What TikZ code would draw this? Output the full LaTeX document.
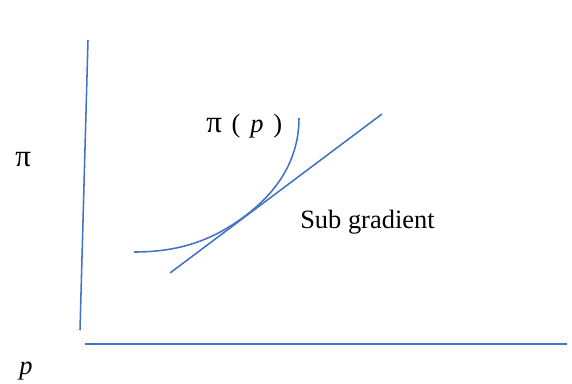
\documentclass[tikz,border=0pt]{standalone}
\usepackage{fontspec}
\setmainfont{Liberation Serif}
\usetikzlibrary{positioning}

\newcommand{\pigrande}{{\fontsize{22}{22}\selectfont π}}

\begin{document}
\begin{tikzpicture}[
  x=0.025cm, y=-0.025cm,
  font=\fontsize{18.8}{22}\selectfont,
  tratto/.style={draw={rgb,255:red,68;green,114;blue,196}, line width=1.1pt},
  etichetta/.style={inner sep=0pt, anchor=base west}
]

% cornice fissata in pixel del riferimento (572 x 383)
\useasboundingbox (0,0) rectangle (572,383);

% ---- assi ----------------------------------------------------------
\draw[tratto] (88,40) -- (80,330);     % asse verticale
\draw[tratto] (85,344) -- (567,344);   % asse orizzontale

\node[etichetta] (asse_pi) at (15,166) {\pigrande};
\node[etichetta] (asse_p)  at (19,374) {\textit{p}};

% ---- funzione e sottogradiente ------------------------------------
\coordinate (contatto) at (245,216);
\draw[tratto] (134,252) .. controls (180,252) and (213,240) .. (contatto)
                        .. controls (277,192) and (299,160) .. (299,118);
\draw[tratto] (170,273) -- (382,114);  % retta tangente

\node[etichetta] (nome_f)  at (206,132)
  {\pigrande\hspace{7pt}(\hspace{7pt}\textit{p}\hspace{7pt})};
\node[etichetta] (nome_sg) at (300,228) {Sub gradient};

\end{tikzpicture}
\end{document}
